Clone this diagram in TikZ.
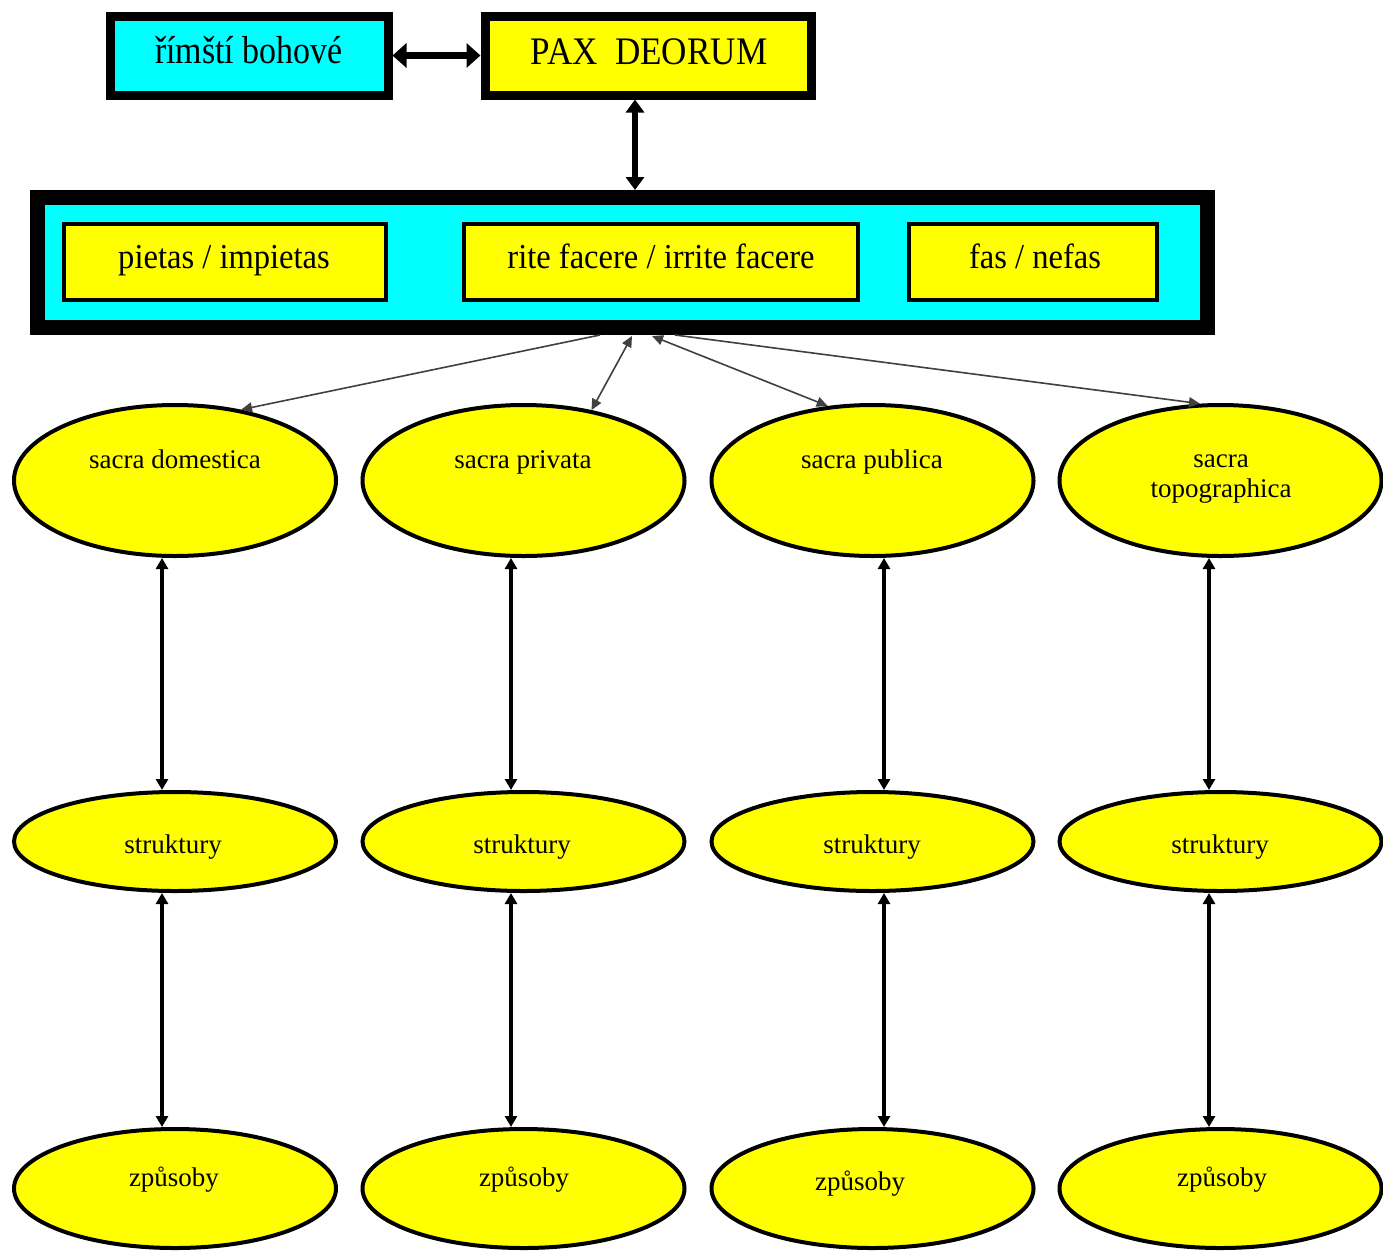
\documentclass[tikz,border=0pt]{standalone}
\usepackage{fontspec}
\usepackage{graphicx}
\setmainfont{Liberation Serif}
\usetikzlibrary{shapes.geometric,arrows.meta}
\definecolor{cy}{RGB}{0,255,255}
\definecolor{ye}{RGB}{255,255,0}
\begin{document}
\begin{tikzpicture}[x=1pt,y=-1pt,
  topbox/.style={draw=black,line width=9pt,inner sep=0pt,minimum height=79pt},
  bigbox/.style={draw=black,fill=cy,line width=15pt,inner sep=0pt,minimum width=1170pt,minimum height=130pt},
  inbox/.style={draw=black,fill=ye,line width=4pt,inner sep=0pt,minimum height=76pt},
  ell/.style={ellipse,draw=black,fill=ye,line width=4pt,inner sep=0pt,minimum width=322pt},
  toptxt/.style={anchor=base,inner sep=0pt,font=\fontsize{39}{40}\selectfont},
  midtxt/.style={anchor=base,inner sep=0pt,font=\fontsize{35}{38}\selectfont},
  elltxt/.style={anchor=base,inner sep=0pt,font=\fontsize{27}{30}\selectfont,align=center},
  thickarr/.style={{Triangle[length=14pt,width=24pt]}-{Triangle[length=14pt,width=24pt]},line width=7pt},
  vertarr/.style={{Triangle[length=13pt,width=18pt]}-{Triangle[length=13pt,width=18pt]},line width=6pt},
  ellarr/.style={{Triangle[length=11pt,width=12pt]}-{Triangle[length=11pt,width=12pt]},line width=3.5pt},
  thinarr/.style={-{Triangle[length=11pt,width=10pt]},line width=1.6pt,draw=black!75},
  thinarr2/.style={{Triangle[length=11pt,width=10pt]}-{Triangle[length=11pt,width=10pt]},line width=1.6pt,draw=black!75}
]
\useasboundingbox (0,0) rectangle (1383,1253);
\fill[white] (0,0) rectangle (1383,1253);

% top boxes
\node[topbox,fill=cy,minimum width=278pt] (b1) at (249,55.5) {};
\node[topbox,fill=ye,minimum width=326pt] (b2) at (648,55.5) {};
\node[toptxt] (t1) at (249,63) {\scalebox{0.87}[1]{římští bohové}};
\node[toptxt] (t2) at (649,64) {\scalebox{0.9}[1]{PAX\ \ DEORUM}};

% big box
\node[bigbox] (big) at (622.5,262.5) {};
\node[inbox,minimum width=322pt] (i1) at (225,262) {};
\node[inbox,minimum width=394pt] (i2) at (661,262) {};
\node[inbox,minimum width=248pt] (i3) at (1033,262) {};
\node[midtxt] (it1) at (224,268) {\scalebox{0.93}[1]{pietas / impietas}};
\node[midtxt] (it2) at (661,268) {\scalebox{0.93}[1]{rite facere / irrite facere}};
\node[midtxt] (it3) at (1035,268) {\scalebox{0.93}[1]{fas / nefas}};

% arrows top
\draw[thickarr] (b1.east) -- (b2.west);
\draw[vertarr] ([xshift=-13pt]b2.south) -- ([xshift=12.5pt]big.north);

% ellipses
\foreach \n/\x in {1/175,2/523.5,3/872.5,4/1220.5}{
  \node[ell,minimum height=151pt] (e\n) at (\x,480.5) {};
  \node[ell,minimum height=99pt] (s\n) at (\x,841.5) {};
  \node[ell,minimum height=119pt] (z\n) at (\x,1188.5) {};
}
\node[elltxt] (et1) at (175,468) {sacra domestica};
\node[elltxt] (et2) at (523,468) {sacra privata};
\node[elltxt] (et3) at (872,468) {sacra publica};
\node[elltxt] (et4) at (1221,497) {sacra\\topographica};
\foreach \n/\x in {1/173,2/522,3/872,4/1220}{
  \node[elltxt] (st\n) at (\x,853) {struktury};
}
\node[elltxt] (zt1) at (174,1186) {způsoby};
\node[elltxt] (zt2) at (524,1186) {způsoby};
\node[elltxt] (zt3) at (860,1190) {způsoby};
\node[elltxt] (zt4) at (1222,1186) {způsoby};

% vertical arrows between ellipses
\foreach \n/\d in {1/-13,2/-12.5,3/11.5,4/-11.5}{
  \draw[ellarr] ([xshift=\d pt]e\n.south) -- ([xshift=\d pt]s\n.north);
  \draw[ellarr] ([xshift=\d pt]s\n.south) -- ([xshift=\d pt]z\n.north);
}

% diagonal arrows
\coordinate (d1) at (600,335);
\coordinate (d2) at (632,336);
\coordinate (d3) at (652,336);
\coordinate (d4) at (675,335);
\draw[thinarr] (d1) -- (e1.47);
\draw[thinarr2] (d2) -- (e2.46);
\draw[thinarr2] (d3) -- (e3.121.5);
\draw[thinarr] (d4) -- (e4.105.3);
\end{tikzpicture}
\end{document}
